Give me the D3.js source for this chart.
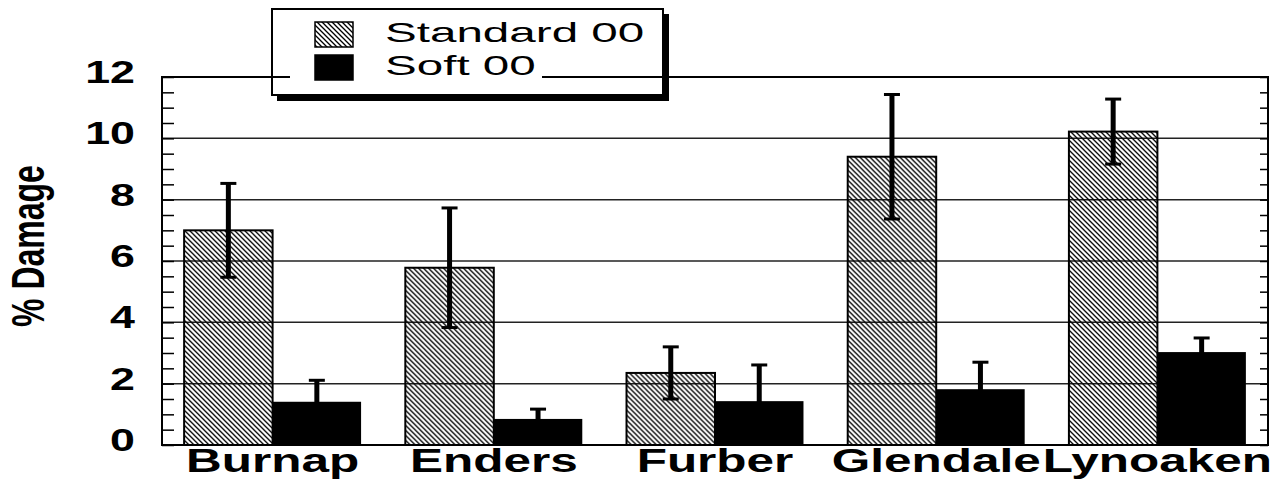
<!DOCTYPE html>
<html>
<head>
<meta charset="utf-8">
<script src="https://cdn.jsdelivr.net/npm/d3@7"></script>
<style>
  html, body { margin: 0; padding: 0; background: #fff; }
  svg { display: block; font-family: "Liberation Sans", Arial, Helvetica, sans-serif; }
</style>
</head>
<body>
<div id="chart"></div>
<script>
// values
const categories = ['Burnap', 'Enders', 'Furber', 'Glendale', 'Lynoaken'];
const seriesNames = ['Standard 00', 'Soft 00'];
const standardValues = [7.0, 5.78, 2.35, 9.4, 10.22];
const standardErrors = [1.53, 1.95, 0.85, 2.03, 1.06];
const softValues = [1.41, 0.85, 1.43, 1.82, 3.03];
const softErrors = [0.7, 0.32, 1.18, 0.88, 0.46];
const yTicks = [0, 2, 4, 6, 8, 10, 12];
const yLabel = '% Damage';

const width = 1285;
const height = 481;
const plot = { left: 162, right: 1268, top: 77, bottom: 445 };

const svg = d3.select('#chart')
  .append('svg')
  .attr('width', width)
  .attr('height', height);

// hatch pattern for the standard bars
const defs = svg.append('defs');
defs.append('pattern')
  .attr('id', 'hatch')
  .attr('patternUnits', 'userSpaceOnUse')
  .attr('width', 5)
  .attr('height', 5)
  .append('path')
  .attr('d', 'M-1,-1 L6,6 M-1,4 L1,6 M4,-1 L6,1')
  .attr('stroke', '#000')
  .attr('stroke-width', 1.3);

const x = d3.scaleBand()
  .domain(categories)
  .range([plot.left, plot.right])
  .paddingInner(0.2)
  .paddingOuter(0.1);

const sub = d3.scaleBand()
  .domain(['std', 'soft'])
  .range([0, x.bandwidth()]);

const y = d3.scaleLinear()
  .domain([0, 12])
  .range([plot.bottom, plot.top]);

const g = svg.append('g');

// grid lines
g.append('g')
  .selectAll('line')
  .data(yTicks.filter((d) => d > 0 && d < 12))
  .join('line')
  .attr('x1', plot.left)
  .attr('x2', plot.right)
  .attr('y1', (d) => y(d))
  .attr('y2', (d) => y(d))
  .attr('stroke', '#222')
  .attr('stroke-width', 1.5);

// inner minor ticks, left and right
const minor = d3.range(0, 12.01, 0.5);
g.append('g')
  .attr('transform', `translate(${plot.left},0)`)
  .call(d3.axisLeft(y).tickValues(minor).tickSize(-12).tickFormat(''))
  .call((s) => s.select('.domain').remove())
  .selectAll('line')
  .attr('stroke-width', 1.5);
g.append('g')
  .attr('transform', `translate(${plot.right},0)`)
  .call(d3.axisRight(y).tickValues(minor).tickSize(-8).tickFormat(''))
  .call((s) => s.select('.domain').remove())
  .selectAll('line')
  .attr('stroke-width', 1.5);

// bars
const rows = categories.map((c, i) => ({
  cat: c,
  std: standardValues[i],
  stdErr: standardErrors[i],
  soft: softValues[i],
  softErr: softErrors[i],
}));

const groups = g.append('g')
  .selectAll('g')
  .data(rows)
  .join('g')
  .attr('transform', (d) => `translate(${x(d.cat)},0)`);

groups.append('rect')
  .attr('x', sub('std'))
  .attr('y', (d) => y(d.std))
  .attr('width', sub.bandwidth())
  .attr('height', (d) => y(0) - y(d.std))
  .attr('fill', 'url(#hatch)')
  .attr('stroke', '#000')
  .attr('stroke-width', 2);

groups.append('rect')
  .attr('x', sub('soft'))
  .attr('y', (d) => y(d.soft))
  .attr('width', sub.bandwidth())
  .attr('height', (d) => y(0) - y(d.soft))
  .attr('fill', '#000');

// error bars
function errorBar(sel, key, errKey) {
  const cx = sub(key) + sub.bandwidth() / 2;
  sel.append('line')
    .attr('x1', cx).attr('x2', cx)
    .attr('y1', (d) => y(d[key] + d[errKey]))
    .attr('y2', (d) => y(d[key] - d[errKey]))
    .attr('stroke', '#000')
    .attr('stroke-width', 5);
  [1, -1].forEach((sign) => {
    sel.append('line')
      .attr('x1', cx - 8).attr('x2', cx + 8)
      .attr('y1', (d) => y(d[key] + sign * d[errKey]))
      .attr('y2', (d) => y(d[key] + sign * d[errKey]))
      .attr('stroke', '#000')
      .attr('stroke-width', 3);
  });
}
errorBar(groups, 'std', 'stdErr');
errorBar(groups, 'soft', 'softErr');

// frame
g.append('rect')
  .attr('x', plot.left)
  .attr('y', plot.top)
  .attr('width', plot.right - plot.left)
  .attr('height', plot.bottom - plot.top)
  .attr('fill', 'none')
  .attr('stroke', '#000')
  .attr('stroke-width', 2);

// y tick labels
g.append('g')
  .selectAll('text')
  .data(yTicks)
  .join('text')
  .attr('transform', (d) => `translate(135,${y(d) + 6}) scale(1.4,1)`)
  .attr('text-anchor', 'end')
  .style('font-size', '32px')
  .style('font-weight', 'bold')
  .text((d) => d);

// x category labels
g.append('g')
  .selectAll('text')
  .data(categories)
  .join('text')
  .attr('transform', (d) => `translate(${x(d) + x.bandwidth() / 2},472) scale(1.5,1)`)
  .attr('text-anchor', 'middle')
  .style('font-size', '33px')
  .style('font-weight', 'bold')
  .text((d) => d);

// y axis title
g.append('text')
  .attr('transform', 'translate(44,246) scale(1.45,1) rotate(-90)')
  .attr('text-anchor', 'middle')
  .style('font-size', '32px')
  .style('font-weight', 'bold')
  .text(yLabel);

// legend
const legend = svg.append('g');
legend.append('rect')
  .attr('x', 290).attr('y', 50)
  .attr('width', 252).attr('height', 31)
  .attr('fill', '#fff');
legend.append('rect')
  .attr('x', 272).attr('y', 9)
  .attr('width', 391).attr('height', 86)
  .attr('fill', 'none')
  .attr('stroke', '#000')
  .attr('stroke-width', 2);
legend.append('rect')
  .attr('x', 663).attr('y', 14)
  .attr('width', 6).attr('height', 87)
  .attr('fill', '#000');
legend.append('rect')
  .attr('x', 277).attr('y', 95)
  .attr('width', 392).attr('height', 6)
  .attr('fill', '#000');

const entries = legend.selectAll('g.entry')
  .data(seriesNames)
  .join('g')
  .attr('class', 'entry')
  .attr('transform', (d, i) => `translate(0,${i * 33})`);

entries.append('rect')
  .attr('x', 315)
  .attr('y', 22)
  .attr('width', 38)
  .attr('height', 25)
  .attr('fill', (d, i) => (i === 0 ? 'url(#hatch)' : '#000'))
  .attr('stroke', '#000')
  .attr('stroke-width', 1.5);

entries.append('text')
  .attr('transform', 'translate(385,42) scale(1.7,1)')
  .style('font-size', '28px')
  .text((d) => d);
</script>
</body>
</html>
